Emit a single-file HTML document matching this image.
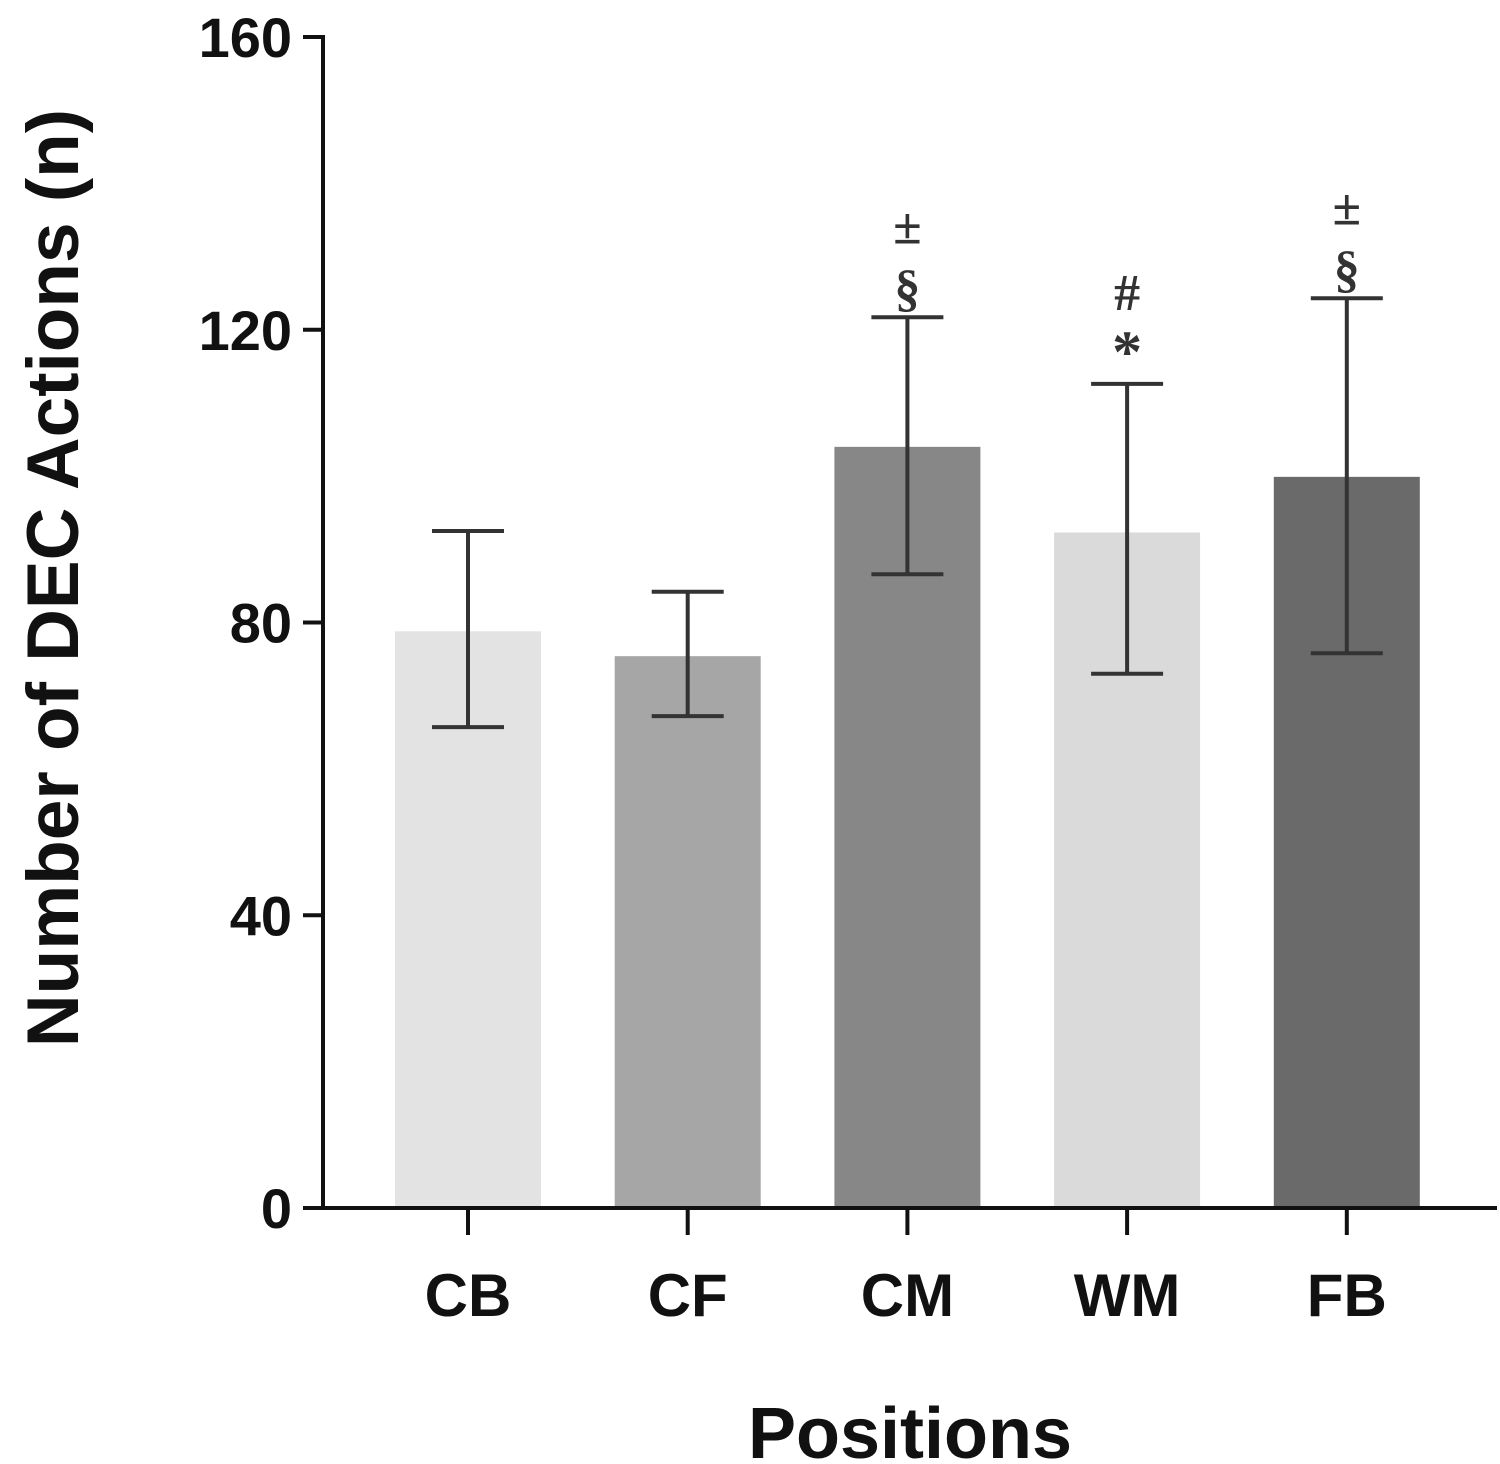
<!DOCTYPE html>
<html><head><meta charset="utf-8"><style>
html,body{margin:0;padding:0;background:#fff;}
svg{display:block;font-family:"Liberation Sans",Arial,sans-serif;}
</style></head><body>
<svg id="chart" width="1500" height="1464" viewBox="0 0 1500 1464">
<g id="bars"></g>
<g id="axes"></g>
<text x="910" y="1458" text-anchor="middle" font-size="72" font-weight="bold" fill="#111">Positions</text>
<text transform="translate(78,578) rotate(-90)" text-anchor="middle" font-size="73" font-weight="bold" fill="#111">Number of DEC Actions (n)</text>
</svg>
<script>
const categories = ["CB","CF","CM","WM","FB"];
const means = [78.8, 75.4, 104, 92.3, 99.9];
const upper = [92.5, 84.2, 121.7, 112.6, 124.3];
const lower = [65.7, 67.2, 86.6, 73, 75.8];
const colors = ["#e3e3e3","#a6a6a6","#878787","#dadada","#6a6a6a"];
const annotations = [[],[],["§","±"],["*","#"],["§","±"]];
const yTicks = [0,40,80,120,160];

const NS="http://www.w3.org/2000/svg";
const y0=1208, y1=37, yMax=160;
const y = v => y0 - (v/yMax)*(y0-y1);
const x = i => 468 + i*219.7;
const bw = 146;
function mk(tag, attrs, parent){const e=document.createElementNS(NS,tag);for(const k in attrs)e.setAttribute(k,attrs[k]);parent.appendChild(e);return e;}
const bars=document.getElementById('bars'), axes=document.getElementById('axes');
categories.forEach((c,i)=>{
  const r=mk('rect',{x:x(i)-bw/2,y:y(means[i]),width:bw,height:y0-y(means[i]),fill:colors[i]},bars);
  
  
  const g=mk('g',{stroke:"#333","stroke-width":4},bars);
  
  
  mk('line',{x1:x(i),x2:x(i),y1:y(upper[i]),y2:y(lower[i])},g);
  mk('line',{x1:x(i)-36,x2:x(i)+36,y1:y(upper[i]),y2:y(upper[i])},g);
  mk('line',{x1:x(i)-36,x2:x(i)+36,y1:y(lower[i]),y2:y(lower[i])},g);
  annotations[i].forEach((s,j)=>{
    const t=mk('text',{x:x(i),y:y(upper[i])-12-j*62,"text-anchor":"middle","font-size":s==="*"?60:52,"font-weight":"bold",fill:"#333","font-family":"Liberation Serif,serif"},bars);
    t.textContent=s;
    
    
  });
  mk('line',{x1:x(i),x2:x(i),y1:y0,y2:y0+27,stroke:"#111","stroke-width":4},axes);
  const tl=mk('text',{x:x(i),y:1316,"text-anchor":"middle","font-size":60,"font-weight":"bold",fill:"#111"},axes);
  tl.textContent=c;
  
  
});
mk('line',{x1:323,x2:323,y1:y1-2,y2:y0+2,stroke:"#111","stroke-width":4},axes);
mk('line',{x1:321,x2:1497,y1:y0,y2:y0,stroke:"#111","stroke-width":4},axes);
yTicks.forEach(v=>{
  mk('line',{x1:303,x2:323,y1:y(v),y2:y(v),stroke:"#111","stroke-width":4},axes);
  const t=mk('text',{x:292,y:y(v)+20,"text-anchor":"end","font-size":56,"font-weight":"bold",fill:"#111"},axes);
  t.textContent=v;
  
  
});
</script>
</body></html>
